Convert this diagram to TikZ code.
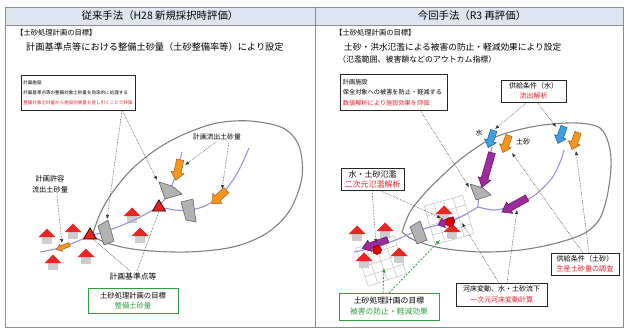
\documentclass[tikz,border=0pt]{standalone}
\usepackage{fontspec}
\setmainfont{Noto Sans CJK JP}
\usetikzlibrary{arrows.meta}

\definecolor{hdr}{RGB}{221,230,240}
\definecolor{roof}{RGB}{232,38,34}
\definecolor{wall}{RGB}{205,205,205}
\definecolor{river}{RGB}{150,146,224}
\definecolor{ored}{RGB}{232,36,48}
\definecolor{ogreen}{RGB}{46,160,64}
\definecolor{sand}{RGB}{246,150,30}
\definecolor{sandrim}{RGB}{165,95,20}
\definecolor{water}{RGB}{62,160,226}
\definecolor{waterrim}{RGB}{30,90,150}
\definecolor{flow}{RGB}{158,42,160}
\definecolor{flowrim}{RGB}{95,20,95}
\definecolor{damfill}{RGB}{178,178,178}
\definecolor{damrim}{RGB}{100,100,100}

\newcommand\fs[2]{\fontsize{#1}{#2}\selectfont}

\tikzset{
  frame/.style={draw=black!45, line width=0.8pt},
  bx/.style={draw=black!85, line width=0.7pt, fill=white, inner sep=0pt, align=center},
  gbx/.style={draw=ogreen, line width=0.9pt, fill=white, inner sep=0pt, align=center},
  rim/.style={draw=black!50, line width=1.1pt},
  riv/.style={draw=river, line width=1.1pt},
  lead/.style={densely dotted, line width=0.55pt, draw=black!80},
  leadto/.style={lead, -{Latex[length=4pt,width=3.4pt]}},
  gleadto/.style={dash pattern=on 2pt off 1.5pt, line width=0.8pt, draw=ogreen, -{Latex[length=4.5pt,width=3.8pt]}},
  sandarr/.style={fill=sand, draw=sandrim, line width=0.5pt},
  waterarr/.style={fill=water, draw=waterrim, line width=0.5pt},
  flowarr/.style={fill=flow, draw=flowrim, line width=0.5pt},
  dam/.style={fill=damfill, draw=damrim, line width=0.6pt},
  refpt/.style={fill=roof, draw=black!75!red, line width=0.8pt},
  cell/.style={draw=black!25, line width=0.5pt, fill=white},
  txt/.style={inner sep=0pt},
  house/.pic={
    \fill[wall] (-5,4) rectangle (5,11);
    \fill[roof] (-8.5,4) -- (0,-4.5) -- (8.5,4) -- cycle;
  },
  meshgrid/.pic={
    \filldraw[cell] (-20,-20) rectangle (20,20);
    \foreach \k in {-10,0,10} {
      \draw[cell] (\k,-20) -- (\k,20);
      \draw[cell] (-20,\k) -- (20,\k);
    }
  },
  % block arrow pointing along +x: {length}{shaft half width}{head half width}{head length}
  pics/blockarr/.style n args={4}{code={
    \path[pic actions] ({-#1/2},{-#2}) -- ({#1/2-#4},{-#2}) -- ({#1/2-#4},{-#3})
      -- ({#1/2},0) -- ({#1/2-#4},{#3}) -- ({#1/2-#4},{#2}) -- ({-#1/2},{#2}) -- cycle;
  }},
}

\begin{document}
\begin{tikzpicture}[x=1pt,y=-1pt]
\useasboundingbox (0,0) rectangle (627,329);

% ---------- table frame ----------
\fill[hdr] (5,7) rectangle (623,25);
\draw[frame] (5,7) rectangle (623,327);
\draw[frame] (5,25) -- (623,25);
\draw[frame] (315,7) -- (315,327);

\node[txt, font=\fs{10.4}{12}] (ttlL) at (160,16) {従来手法（H28 新規採択時評価）};
\node[txt, font=\fs{10.4}{12}] (ttlR) at (472,16) {今回手法（R3 再評価）};

% ---------- left: conventional method ----------
\node[txt, anchor=west, font=\fs{7.3}{9}] (goalL) at (16,33) {【土砂処理計画の目標】};
\node[txt, anchor=west, font=\fs{9.2}{11}] (goalLtxt) at (26,47) {計画基準点等における整備土砂量（土砂整備率等）により設定};

\node[bx, anchor=north west, align=left, minimum width=114pt, minimum height=35pt,
      text width=110pt, font=\fs{4.55}{10}] (facL) at (21,75)
  {計画施設\\計画基準点等の整備対象土砂量を効率的に処理する\\\textcolor{ored}{整備対象土砂量から施設効果量を差し引くことで評価}};

% catchment
\draw[rim] plot[smooth, tension=0.55] coordinates {(92,236) (100,214) (112,193) (133,168) (160,147) (187,133) (217,123) (250,121) (283,128) (299,146) (302,177) (290,210) (267,233) (233,247) (187,252) (140,250) (110,244) (92,236)};

% houses
\foreach \p in {(47,233),(73,228),(132,212),(140,232),(86,253),(53,259)}
  \pic at \p {house};

% river
\draw[riv] plot[smooth] coordinates {(40,252) (63,247) (90,236) (107,231) (132,221) (159,207)};
\draw[riv] plot[smooth] coordinates {(159,207) (166,197) (171,188) (177,170) (182,152)};
\draw[riv] plot[smooth] coordinates {(159,207) (175,210) (190,210) (205,206) (220,196) (233,180) (241,166) (249,148)};

% dams
\filldraw[dam] (98,226) -- (108,220) -- (114,241) -- (104,245) -- cycle;
\filldraw[dam] (159,182) -- (172,186) -- (182,194) -- (165,199) -- cycle;
\filldraw[dam] (181,202) -- (193,199) -- (196,222) -- (186,220) -- cycle;

% reference points
\filldraw[refpt] (90,228) -- (96.5,239) -- (83.5,239) -- cycle;
\filldraw[refpt] (159,200) -- (165.5,211) -- (152.5,211) -- cycle;

% sediment inflow arrows
\pic[sandarr, rotate=-102] at (178,170) {blockarr={21}{3.6}{6.8}{8}};
\pic[sandarr, rotate=-137] at (219,197) {blockarr={20}{3.6}{6.8}{8}};
\pic[sandarr, rotate=-159] at (63,247) {blockarr={14}{2}{3.8}{5}};

% labels
\node[txt, font=\fs{6.8}{8}] (lblFlow) at (217,137) {計画流出土砂量};
\node[txt, align=center, font=\fs{7.2}{11}] (lblAllow) at (50,184) {計画許容\\流出土砂量};
\node[txt, font=\fs{7.8}{9}] (lblRef) at (133,277) {計画基準点等};
\node[gbx, minimum width=90pt, minimum height=25pt, font=\fs{7.3}{10}] (goalBoxL) at (133,300.5)
  {土砂処理計画の目標\\\textcolor{ogreen}{整備土砂量}};

% leaders
\coordinate (facLfoot) at (122,110);
\coordinate (damL1) at (107,219);
\coordinate (damL2) at (157,180);
\coordinate (flowA) at (216,142);
\coordinate (flowB) at (229,142);
\coordinate (sandL1) at (185,165);
\coordinate (sandL2) at (222,189);
\coordinate (allowFoot) at (57,196);
\coordinate (sandL3) at (62,243);
\coordinate (refA) at (130,271);
\coordinate (refB) at (137,271);
\coordinate (triL1) at (93,239);
\coordinate (triL2) at (159,211);
\draw[leadto] (facLfoot) -- (damL1);
\draw[leadto] (facLfoot) -- (damL2);
\draw[leadto] (flowA) -- (sandL1);
\draw[leadto] (flowB) -- (sandL2);
\draw[leadto] (allowFoot) -- (sandL3);
\draw[lead] (refA) -- (triL1);
\draw[lead] (refB) -- (triL2);

% ---------- right: present method ----------
\node[txt, anchor=west, font=\fs{7.3}{9}] (goalR) at (335,33) {【土砂処理計画の目標】};
\node[txt, anchor=west, font=\fs{8.7}{11}] (goalRtxt) at (344,47) {土砂・洪水氾濫による被害の防止・軽減効果により設定};
\node[txt, anchor=west, font=\fs{7.9}{11}] (goalRtxt2) at (338,59) {（氾濫範囲、被害額などのアウトカム指標）};

\node[bx, anchor=north west, align=left, minimum width=107pt, minimum height=36pt,
      text width=102pt, font=\fs{6.2}{10.5}] (facR) at (340,74)
  {計画施設\\保全対象への被害を防止・軽減する\\\textcolor{ored}{数値解析により施設効果を評価}};
\node[bx, minimum width=65pt, minimum height=22pt, font=\fs{7}{10.5}] (supW) at (533.5,91)
  {供給条件（水）\\\textcolor{ored}{流出解析}};

% catchment
\draw[rim] plot[smooth, tension=0.55] coordinates {(402,232) (410,212) (425,193) (443,175) (462,158) (487,141) (510,132) (543,125) (577,123) (600,128) (609,145) (611,167) (607,197) (599,220) (583,234) (553,244) (520,250) (481,252) (441,248) (414,240) (402,232)};

% inundation meshes
\pic[rotate=18] at (381,261) {meshgrid};
\pic[rotate=16] at (449,220) {meshgrid};

% houses
\foreach \p in {(357,230),(385,227),(399,252),(364,257),(444,210),(452,228)}
  \pic at \p {house};

% river
\draw[riv] plot[smooth] coordinates {(354,252) (377,247) (398,239) (417,231) (441,224) (452,221) (468,213) (478,207)};
\draw[riv] plot[smooth] coordinates {(478,207) (479,195) (484,175) (490,155) (492,147)};
\draw[riv] plot[smooth] coordinates {(478,207) (495,210) (515,205) (535,195) (552,178) (561,160) (564,150)};

% dams
\filldraw[dam] (410,227) -- (420,221) -- (427,240) -- (417,244) -- cycle;
\filldraw[dam] (470,184) -- (483,188) -- (491,195) -- (476,200) -- cycle;

% supply and routing arrows
\pic[waterarr, rotate=-108] at (491,139) {blockarr={18}{3.3}{6.2}{7}};
\pic[sandarr,  rotate=-110] at (506,144) {blockarr={18}{3.3}{6.2}{7}};
\pic[waterarr, rotate=-110] at (561,135) {blockarr={18}{3.3}{6.2}{7}};
\pic[sandarr,  rotate=-110] at (575,141) {blockarr={18}{3.3}{6.2}{7}};
\pic[flowarr, rotate=-106] at (487,170) {blockarr={36}{3.5}{6.5}{9}};
\pic[flowarr, rotate=-151] at (514.5,205) {blockarr={29}{3.5}{6.5}{9}};
\pic[flowarr, rotate=-160] at (446,222) {blockarr={17}{2.6}{5}{6}};
\pic[flowarr, rotate=-161] at (375,244) {blockarr={27}{3}{6}{8}};

% inundation spots
\filldraw[fill=red!90!black, draw=red!50!black, line width=0.5pt] (377,250) circle (4.5);
\filldraw[fill=red!90!black, draw=red!50!black, line width=0.5pt] (450,222) circle (4.5);

% labels
\node[txt, font=\fs{7}{8}] (lblW) at (479,133) {水};
\node[txt, font=\fs{7}{8}] (lblS) at (523,142) {土砂};
\node[bx, minimum width=63pt, minimum height=22pt, font=\fs{8}{10}] (flood) at (372.5,179)
  {水・土砂氾濫\\\textcolor{ored}{二次元氾濫解析}};
\node[bx, minimum width=68pt, minimum height=22pt, font=\fs{7.1}{10}] (supS) at (585,264)
  {供給条件（土砂）\\\textcolor{ored}{生産土砂量の調査}};
\node[bx, minimum width=91pt, minimum height=23pt, font=\fs{7}{10.5}] (bed) at (501.5,294.5)
  {河床変動、水・土砂流下\\\textcolor{ored}{一次元河床変動計算}};
\node[gbx, minimum width=100pt, minimum height=27pt, font=\fs{7.8}{11}] (goalBoxR) at (389,306.5)
  {土砂処理計画の目標\\\textcolor{ogreen}{被害の防止・軽減効果}};

% leaders
\coordinate (facRfoot) at (420,110);
\coordinate (damR2) at (469,187);
\coordinate (supWa) at (527,102);
\coordinate (supWb) at (537,102);
\coordinate (waterR1) at (495,129);
\coordinate (waterR2) at (556,127);
\coordinate (floodA) at (372,190);
\coordinate (floodB) at (379,190);
\coordinate (meshA) at (376,243);
\coordinate (meshB) at (441,218);
\coordinate (supSa) at (583,253);
\coordinate (supSb) at (589,253);
\coordinate (sandR1) at (512,153);
\coordinate (sandR2) at (576,151);
\coordinate (bedA) at (499,283);
\coordinate (bedB) at (507,283);
\coordinate (meshBr) at (462,223);
\coordinate (flowR2) at (517,210);
\coordinate (goalA) at (383,293);
\coordinate (goalB) at (389,293);
\coordinate (meshAlow) at (384,268);
\coordinate (meshBlow) at (440,240);
\draw[leadto] (facRfoot) -- (damR2);
\draw[leadto] (supWa) -- (waterR1);
\draw[leadto] (supWb) -- (waterR2);
\draw[leadto] (floodA) -- (meshA);
\draw[leadto] (floodB) -- (meshB);
\draw[leadto] (supSa) -- (sandR1);
\draw[leadto] (supSb) -- (sandR2);
\draw[leadto] (bedA) -- (meshBr);
\draw[leadto] (bedB) -- (flowR2);
\draw[gleadto] (goalA) -- (meshAlow);
\draw[gleadto] (goalB) -- (meshBlow);
\end{tikzpicture}
\end{document}
